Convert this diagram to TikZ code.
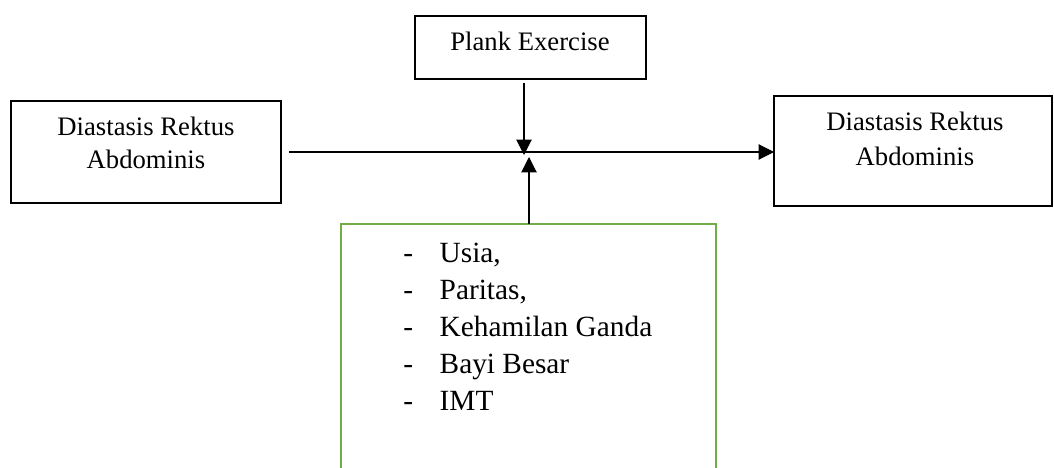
\documentclass[tikz,border=0pt]{standalone}
\usepackage{fontspec}
\setmainfont{Liberation Serif}
\usetikzlibrary{arrows.meta}
\definecolor{boxgreen}{RGB}{112,173,71}
\tikzset{
  blackbox/.style={draw=black, line width=1.5pt, inner sep=0pt, outer sep=0pt},
  greenbox/.style={draw=boxgreen, line width=2pt, inner sep=0pt, outer sep=0pt},
  boxtext/.style={font=\fontsize{20}{25.5}\selectfont, align=center, inner sep=0pt, anchor=base},
  conn/.style={draw=black, line width=0.8pt, -{Triangle[length=11.5pt,width=11.5pt]}},
}
\begin{document}
\begin{tikzpicture}[x=0.75pt,y=-0.75pt]
\useasboundingbox (0,0) rectangle (1054,468);
% boxes
\node[blackbox, line width=1.9pt, minimum width=270*0.75pt, minimum height=102*0.75pt] (left) at (146,152) {};
\node[blackbox, minimum width=278*0.75pt, minimum height=110*0.75pt] (right) at (913,151) {};
\node[blackbox, minimum width=231*0.75pt, minimum height=63*0.75pt] (plank) at (530.5,47.5) {};
\node[greenbox, minimum width=375*0.75pt, minimum height=256*0.75pt] (green) at (528.5,352) {};
% texts (base anchor = baseline of the last line)
\node[boxtext, font=\fontsize{20}{24.75}\selectfont] (lefttext) at (146,168) {Diastasis Rektus\\Abdominis};
\node[boxtext, font=\fontsize{20}{26.25}\selectfont] (righttext) at (915,165) {Diastasis Rektus\\Abdominis};
\node[boxtext] (planktext) at (530,50) {Plank Exercise};
\node[anchor=base west, inner sep=0pt, font=\fontsize{22}{27.75}\selectfont] (list) at (403,262)
  {\begin{tabular}[t]{@{}l@{\hspace{20pt}}l@{}}
   - & Usia,\\
   - & Paritas,\\
   - & Kehamilan Ganda\\
   - & Bayi Besar\\
   - & IMT
  \end{tabular}};
% connectors
\coordinate (dtip) at (524,155);
\coordinate (utip) at (529,157);
\draw[conn, shorten <=8*0.75pt] (left.east) -- (left.east -| right.west);
\draw[conn, shorten <=3pt] (plank.south -| dtip) -- (dtip);
\draw[conn] (green.north -| utip) -- (utip);
\end{tikzpicture}
\end{document}
